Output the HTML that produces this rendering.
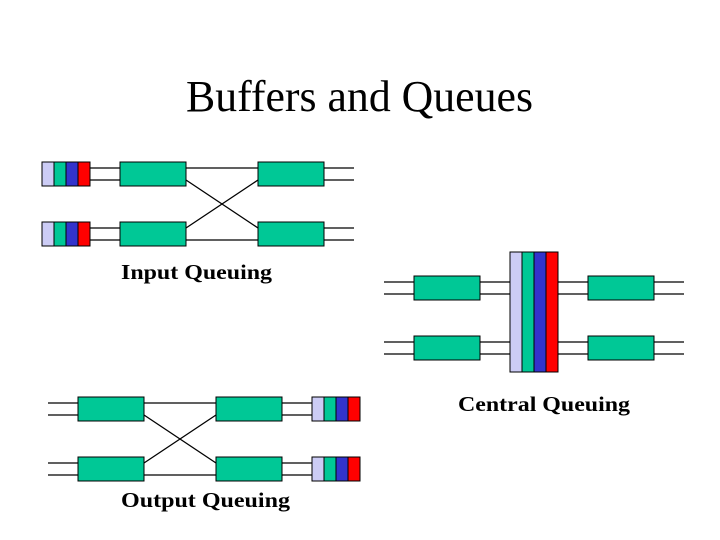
<!DOCTYPE html>
<html><head><meta charset="utf-8"><style>html,body{margin:0;padding:0;background:#fff}svg{display:block}</style></head>
<body>
<svg width="720" height="540" viewBox="0 0 720 540" xmlns="http://www.w3.org/2000/svg">
<defs>
<g id="q"><rect x="0" y="0" width="12" height="24" fill="#ccccf5" stroke="#000"/><rect x="12" y="0" width="12" height="24" fill="#00c896" stroke="#000"/><rect x="24" y="0" width="12" height="24" fill="#3333cc" stroke="#000"/><rect x="36" y="0" width="12" height="24" fill="#ff0000" stroke="#000"/></g>
<rect id="b" x="0" y="0" width="66" height="24" fill="#00c896" stroke="#000"/>
</defs>
<text x="186" y="111" font-family="Liberation Serif, serif" font-size="44" textLength="347" lengthAdjust="spacingAndGlyphs">Buffers and Queues</text>
<g stroke="#000" stroke-width="1.3" fill="none">
<!-- input -->
<path d="M90 168H120M90 180H120M186 168H258M324 168H354M324 180H354M186 180L258 228M186 228L258 180M90 228H120M90 240H120M186 240H258M324 228H354M324 240H354"/>
<!-- central -->
<path d="M384 282H414M384 294H414M480 282H510M480 294H510M558 282H588M558 294H588M654 282H684M654 294H684M384 342H414M384 354H414M480 342H510M480 354H510M558 342H588M558 354H588M654 342H684M654 354H684"/>
<!-- output -->
<path d="M48 403H78M48 415H78M144 403H216M282 403H312M282 415H312M144 415L216 463M144 463L216 415M48 463H78M48 475H78M144 475H216M282 463H312M282 475H312"/>
</g>
<use href="#q" x="42" y="162"/><use href="#q" x="42" y="222"/>
<use href="#b" x="120" y="162"/><use href="#b" x="258" y="162"/><use href="#b" x="120" y="222"/><use href="#b" x="258" y="222"/>
<use href="#b" x="414" y="276"/><use href="#b" x="588" y="276"/><use href="#b" x="414" y="336"/><use href="#b" x="588" y="336"/>
<rect x="510" y="252" width="12" height="120" fill="#ccccf5" stroke="#000"/><rect x="522" y="252" width="12" height="120" fill="#00c896" stroke="#000"/><rect x="534" y="252" width="12" height="120" fill="#3333cc" stroke="#000"/><rect x="546" y="252" width="12" height="120" fill="#ff0000" stroke="#000"/>
<use href="#b" x="78" y="397"/><use href="#b" x="216" y="397"/><use href="#b" x="78" y="457"/><use href="#b" x="216" y="457"/>
<use href="#q" x="312" y="397"/><use href="#q" x="312" y="457"/>
<g font-family="Liberation Serif, serif" font-size="21" font-weight="bold">
<text x="121" y="279" textLength="151" lengthAdjust="spacingAndGlyphs">Input Queuing</text>
<text x="458" y="411" textLength="172" lengthAdjust="spacingAndGlyphs">Central Queuing</text>
<text x="121" y="507" textLength="169" lengthAdjust="spacingAndGlyphs">Output Queuing</text>
</g>
</svg>
</body></html>
